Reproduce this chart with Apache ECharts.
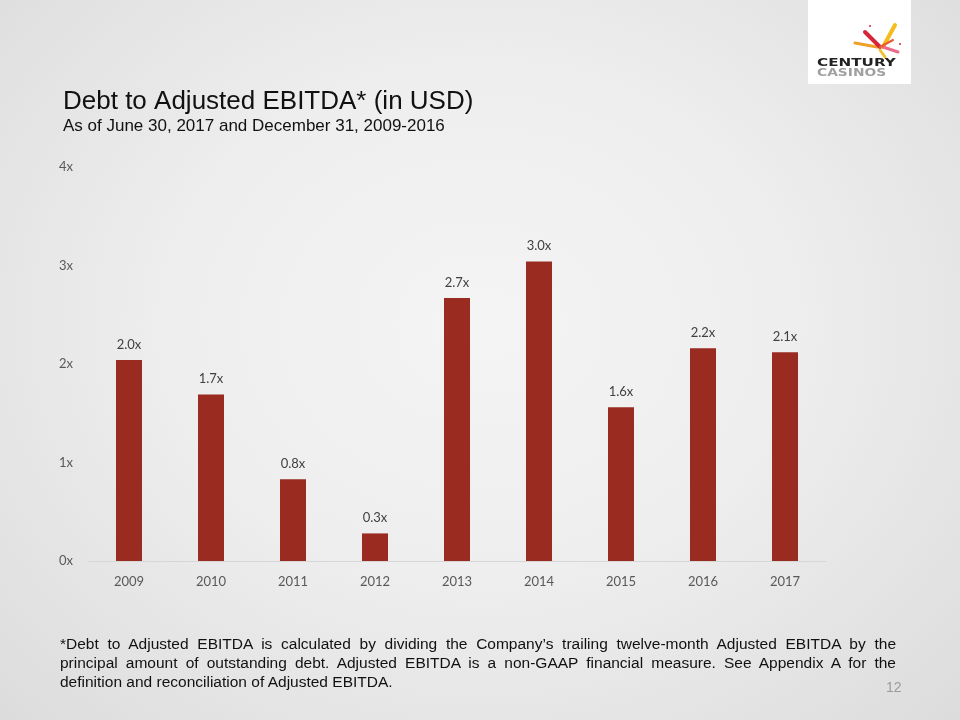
<!DOCTYPE html>
<html><head><meta charset="utf-8">
<script src="https://cdn.jsdelivr.net/npm/echarts@6/dist/echarts.min.js"></script>
<style>
html,body{margin:0;padding:0;}
#wrap{position:relative;width:960px;height:720px;background:radial-gradient(ellipse at 50% 45%, #f4f4f4 0%, #eeeeee 45%, #dcdcdc 100%);overflow:hidden;}
#chart{position:absolute;left:0;top:0;width:960px;height:720px;}
#foot{position:absolute;left:60px;top:634px;width:836px;font-family:"Liberation Sans",Arial,sans-serif;font-size:15.5px;line-height:19px;color:#111;}
#foot div{text-align:justify;text-align-last:justify;white-space:nowrap;}
#foot div.last{text-align-last:left;}
</style></head>
<body><div id="wrap"><div id="chart"></div>
<div id="foot"><div>*Debt to Adjusted EBITDA is calculated by dividing the Company’s trailing twelve-month Adjusted EBITDA by the</div><div>principal amount of outstanding debt. Adjusted EBITDA is a non-GAAP financial measure. See Appendix A for the</div><div class="last">definition and reconciliation of Adjusted EBITDA.</div></div>
</div>
<script>
const years = ['2009','2010','2011','2012','2013','2014','2015','2016','2017'];
const ratios = [2.04, 1.69, 0.83, 0.28, 2.67, 3.04, 1.56, 2.16, 2.12];
const ratioLabels = ['2.0x','1.7x','0.8x','0.3x','2.7x','3.0x','1.6x','2.2x','2.1x'];
const yTicks = ['0x','1x','2x','3x','4x'];

const chart = echarts.init(document.getElementById('chart'), null, {renderer:'canvas'});
function ray(x1,y1,x2,y2,c,w){return {type:'line',shape:{x1,y1,x2,y2},style:{stroke:c,lineWidth:w,lineCap:'round'}};}
chart.setOption({
  backgroundColor:'transparent',
  title:{
    text:'Debt to Adjusted EBITDA* (in USD)',
    subtext:'As of June 30, 2017 and December 31, 2009-2016',
    left:58, top:84, itemGap:3,
    textStyle:{fontFamily:'Liberation Sans',fontSize:26,fontWeight:'normal',color:'#111'},
    subtextStyle:{fontFamily:'Liberation Sans',fontSize:17,color:'#111'}
  },
  grid:{left:88,right:134,top:167,bottom:159,containLabel:false},
  xAxis:{
    type:'category',data:years,
    axisLine:{lineStyle:{color:'#d6d6d6',width:1}},
    axisTick:{show:false},
    axisLabel:{color:'#595959',fontFamily:'Lato, Open Sans, sans-serif',fontSize:13,margin:14}
  },
  yAxis:{
    type:'value',min:0,max:4,interval:1,
    axisLine:{show:false},axisTick:{show:false},splitLine:{show:false},
    axisLabel:{color:'#595959',fontFamily:'Lato, Open Sans, sans-serif',fontSize:13,margin:15,
      formatter:(v)=>yTicks[Math.round(v)]}
  },
  series:[{
    type:'bar',data:ratios,barWidth:26,
    itemStyle:{color:'#992b20'},
    label:{show:true,position:'top',distance:9,color:'#404040',
      fontFamily:'Lato, Open Sans, sans-serif',fontSize:13,
      formatter:(p)=>ratioLabels[p.dataIndex]}
  }],
  graphic:[
    {type:'rect',shape:{x:808,y:0,width:103,height:84},style:{fill:'#ffffff'}},
    ray(855,43,877,47,'#eea02a',3),
    ray(865,32,880,47,'#d8243a',4),
    ray(895,25,883,47,'#f4bc1c',4),
    ray(883,47,898,52,'#ec6a8a',3),
    ray(880,50,885,57,'#f2c232',3),
    ray(880,47,893,40,'#e85a30',2),
    {type:'circle',shape:{cx:870,cy:26,r:1},style:{fill:'#d8243a'}},
    {type:'circle',shape:{cx:900,cy:44,r:1},style:{fill:'#d8243a'}},
    {type:'text',x:817,y:58,scaleX:1.38,style:{x:0,y:0,text:'CENTURY',font:'bold 11px "DejaVu Sans", sans-serif',fill:'#222222'}},
    {type:'text',x:817,y:68,scaleX:1.38,style:{x:0,y:0,text:'CASINOS',font:'bold 10px "DejaVu Sans", sans-serif',fill:'#a0a0a0'}},
    {type:'text',style:{x:886,y:681,text:'12',font:'14px "Liberation Sans", sans-serif',fill:'#9b9b9b'}}
  ]
});
</script>
</body></html>
